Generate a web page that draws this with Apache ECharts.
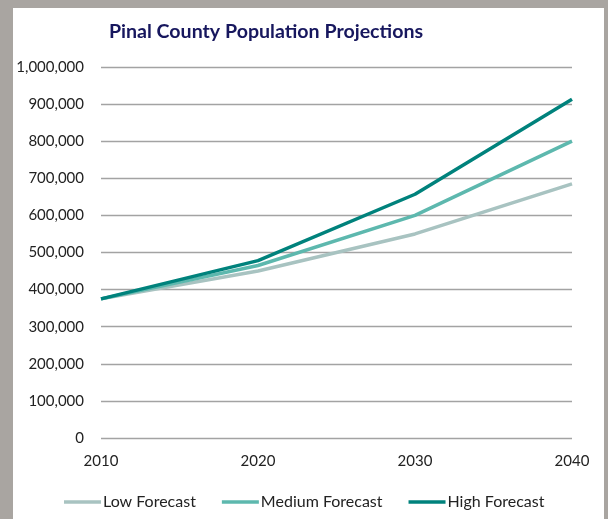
<!DOCTYPE html>
<html>
<head>
<meta charset="utf-8">
<script src="https://cdn.jsdelivr.net/npm/echarts@6/dist/echarts.min.js"></script>
<style>
html,body{margin:0;padding:0;background:#a9a5a1;}
#chart{width:608px;height:519px;}
</style>
</head>
<body>
<div id="chart"></div>
<script>
const titleText = 'Pinal County Population Projections';
const years = ['2010', '2020', '2030', '2040'];
const lowForecast = [375000, 450000, 550000, 685000];
const mediumForecast = [375000, 465000, 600000, 800000];
const highForecast = [375000, 478000, 657000, 913000];
const seriesNames = ['Low Forecast', 'Medium Forecast', 'High Forecast'];
const seriesColors = ['#a8c3c1', '#5db8ae', '#00827c'];
const seriesData = [lowForecast, mediumForecast, highForecast];

const chart = echarts.init(document.getElementById('chart'));
chart.setOption({
  animation: false,
  backgroundColor: '#a9a5a1',
  graphic: [{
    type: 'rect', z: -10, silent: true,
    shape: { x: 13, y: 8, width: 591, height: 511 },
    style: { fill: '#ffffff' }
  }],
  title: {
    text: titleText,
    left: 261, top: 17, textAlign: 'center',
    textStyle: { fontFamily: 'Lato', fontWeight: 'bold', fontSize: 19.6, color: '#17175e' }
  },
  legend: {
    data: seriesNames,
    top: 489, left: 59,
    itemWidth: 37, itemHeight: 3.5, itemGap: 26,
    icon: 'rect',
    textStyle: { fontFamily: 'Lato', fontSize: 16, color: '#222', padding: [0, 0, 0, -3] }
  },
  grid: { left: 101, right: 36, top: 67, bottom: 81 },
  xAxis: {
    type: 'category', data: years, boundaryGap: false,
    axisLine: { show: false }, axisTick: { show: false },
    axisLabel: { fontFamily: 'Lato', fontSize: 15, color: '#222', margin: 16 }
  },
  yAxis: {
    type: 'value', min: 0, max: 1000000, interval: 100000,
    axisLine: { show: false }, axisTick: { show: false },
    axisLabel: {
      fontFamily: 'Lato', fontSize: 15, color: '#222', margin: 17,
      formatter: v => v.toLocaleString('en-US')
    },
    splitLine: { lineStyle: { color: '#a3a3a3', width: 1.3 } }
  },
  series: seriesData.map((d, i) => ({
    name: seriesNames[i], type: 'line', data: d,
    symbol: 'none', color: seriesColors[i],
    lineStyle: { width: 3.5, color: seriesColors[i] }
  }))
});
</script>
</body>
</html>
